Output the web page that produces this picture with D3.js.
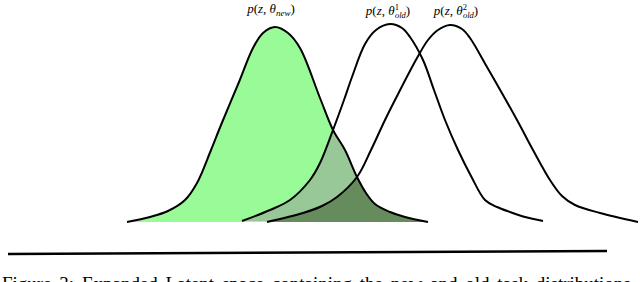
<!DOCTYPE html>
<html>
<head>
<meta charset="utf-8">
<script src="https://cdn.jsdelivr.net/npm/d3@7"></script>
<style>
  html, body { margin: 0; padding: 0; background: #fff; }
  svg { display: block; }
</style>
</head>
<body>
<svg id="chart" width="640" height="282"></svg>
<script>
// ---- data (z = latent position, d = relative density) ----
const newDist = [
  [-2.96, 0], [-2.5, 0.025], [-2.14, 0.055], [-1.8, 0.11], [-1.56, 0.195],
  [-1.28, 0.36], [-1.08, 0.485], [-0.72, 0.70], [-0.44, 0.87], [-0.24, 0.945],
  [0, 0.975], [0.26, 0.945], [0.5, 0.87], [0.9, 0.62], [1.16, 0.46],
  [1.4, 0.36], [1.64, 0.225], [1.82, 0.145], [2.0, 0.09], [2.3, 0.05],
  [2.6, 0.025], [3.06, 0]
];
const oldDist1 = [
  [-0.66, 0.005], [-0.1, 0.06], [0.3, 0.11], [0.7, 0.21], [0.9, 0.295],
  [1.16, 0.46], [1.38, 0.61], [1.54, 0.725], [1.8, 0.89], [2.02, 0.96],
  [2.3, 0.99], [2.54, 0.97], [2.7, 0.925], [2.96, 0.81], [3.18, 0.66],
  [3.4, 0.51], [3.66, 0.36], [3.92, 0.23], [4.2, 0.11], [4.44, 0.075],
  [4.7, 0.05], [5.0, 0.025], [5.36, 0.005]
];
const oldDist2 = [
  [-0.16, 0], [0.56, 0.045], [0.94, 0.08], [1.24, 0.125], [1.64, 0.225],
  [1.92, 0.36], [2.2, 0.51], [2.4, 0.61], [2.84, 0.82], [3.06, 0.91],
  [3.26, 0.96], [3.5, 0.985], [3.74, 0.965], [3.9, 0.92], [4.24, 0.775],
  [4.84, 0.51], [5.16, 0.36], [5.5, 0.21], [5.74, 0.13], [6.0, 0.085],
  [6.5, 0.045], [7.26, 0]
];
const baseLine = [[-5.34, -0.16], [6.64, -0.145]];
const labels = [
  { z: -0.08, d: 1.045, sub: "new", sup: null },
  { z: 2.26, d: 1.035, sub: "old", sup: "1" },
  { z: 3.62, d: 1.035, sub: "old", sup: "2" }
];
const caption = "Figure 3: Expanded Latent space containing the new and old task distributions.";

// ---- scales ----
const x = d3.scaleLinear().domain([0, 1]).range([275, 325]);
const y = d3.scaleLinear().domain([0, 1]).range([222, 22]);

const svg = d3.select("#chart");
const line = d3.line().x(p => x(p[0])).y(p => y(p[1])).curve(d3.curveCatmullRom.alpha(0.5));
const closed = pts => line(pts) + "Z";

const defs = svg.append("defs");
defs.append("clipPath").attr("id", "clipNew")
  .append("path").attr("d", closed(newDist));

// fills
svg.append("path").attr("d", closed(newDist)).attr("fill", "#98fb98");
svg.append("path").attr("d", closed(oldDist1)).attr("fill", "#98c898")
  .attr("clip-path", "url(#clipNew)");
svg.append("path").attr("d", closed(oldDist2)).attr("fill", "#668c5e")
  .attr("clip-path", "url(#clipNew)");

// outlines
[newDist, oldDist1, oldDist2].forEach(pts => {
  svg.append("path").attr("d", line(pts))
    .attr("fill", "none").attr("stroke", "#000")
    .attr("stroke-width", 2).attr("stroke-linejoin", "round");
});

// base line
svg.append("path")
  .attr("d", d3.line().x(p => x(p[0])).y(p => y(p[1]))(baseLine))
  .attr("stroke", "#000").attr("stroke-width", 2.6).attr("fill", "none");

// labels
labels.forEach(l => {
  const t = svg.append("text")
    .attr("x", x(l.z)).attr("y", y(l.d))
    .attr("text-anchor", "middle")
    .attr("font-family", "'Liberation Serif', 'DejaVu Serif', serif")
    .attr("font-size", 13).attr("fill", "#000");
  t.append("tspan").attr("font-style", "italic").text("p");
  t.append("tspan").text("(");
  t.append("tspan").attr("font-style", "italic").text("z");
  t.append("tspan").text(", ");
  t.append("tspan").attr("font-style", "italic").text("\u03B8");
  if (l.sup) {
    t.append("tspan").attr("font-size", 8.5).attr("dy", -5).text(l.sup);
    t.append("tspan").attr("font-size", 8.5).attr("font-style", "italic")
      .attr("dx", -4).attr("dy", 8).text(l.sub);
    t.append("tspan").attr("dy", -3).text(")");
  } else {
    t.append("tspan").attr("font-size", 9).attr("font-style", "italic")
      .attr("dy", 3).text(l.sub);
    t.append("tspan").attr("dy", -3).text(")");
  }
});

// caption
svg.append("text").attr("x", 2).attr("y", 290)
  .attr("font-family", "'Liberation Serif', serif")
  .attr("font-size", 19).attr("word-spacing", 3).attr("fill", "#000")
  .text(caption);
</script>
</body>
</html>
